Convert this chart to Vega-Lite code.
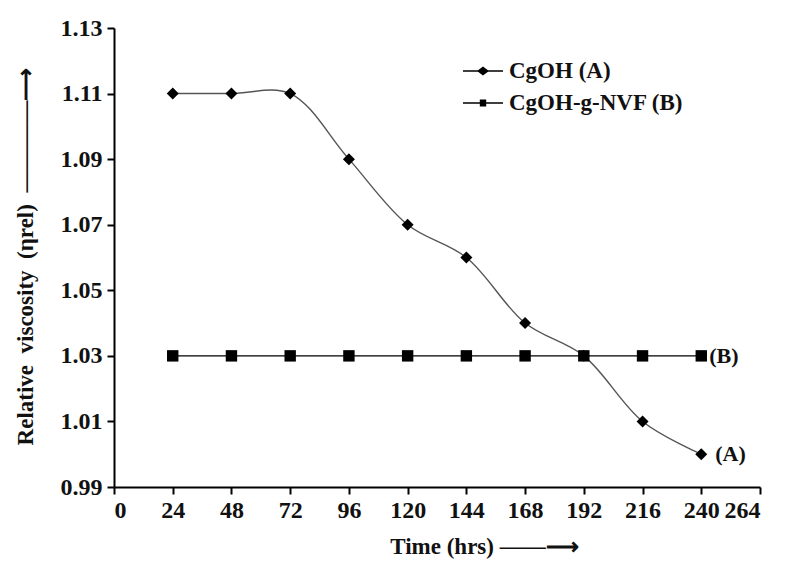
{
  "$schema": "https://vega.github.io/schema/vega-lite/v6.json",
  "autosize": {"type": "none"},
  "width": 646,
  "height": 459,
  "padding": {"left": 114, "top": 28, "right": 26, "bottom": 85},
  "background": "white",
  "config": {
    "view": {"stroke": null},
    "font": "Liberation Serif",
    "axis": {
      "labelFont": "Liberation Serif",
      "labelFontWeight": "bold",
      "labelFontSize": 24,
      "labelColor": "#111",
      "titleFont": "Liberation Serif",
      "titleFontWeight": "bold",
      "titleFontSize": 23,
      "titleColor": "#111",
      "domainColor": "#000",
      "domainWidth": 2,
      "tickColor": "#000",
      "tickWidth": 2,
      "tickSize": 7,
      "grid": false
    },
    "legend": {
      "labelFont": "Liberation Serif",
      "labelFontWeight": "bold",
      "labelFontSize": 23,
      "labelColor": "#111",
      "labelLimit": 400
    }
  },
  "datasets": {
    "visc": [
      {"time": 24, "value": 1.11, "series": "CgOH (A)"},
      {"time": 48, "value": 1.11, "series": "CgOH (A)"},
      {"time": 72, "value": 1.11, "series": "CgOH (A)"},
      {"time": 96, "value": 1.09, "series": "CgOH (A)"},
      {"time": 120, "value": 1.07, "series": "CgOH (A)"},
      {"time": 144, "value": 1.06, "series": "CgOH (A)"},
      {"time": 168, "value": 1.04, "series": "CgOH (A)"},
      {"time": 192, "value": 1.03, "series": "CgOH (A)"},
      {"time": 216, "value": 1.01, "series": "CgOH (A)"},
      {"time": 240, "value": 1.00, "series": "CgOH (A)"},
      {"time": 24, "value": 1.03, "series": "CgOH-g-NVF (B)"},
      {"time": 48, "value": 1.03, "series": "CgOH-g-NVF (B)"},
      {"time": 72, "value": 1.03, "series": "CgOH-g-NVF (B)"},
      {"time": 96, "value": 1.03, "series": "CgOH-g-NVF (B)"},
      {"time": 120, "value": 1.03, "series": "CgOH-g-NVF (B)"},
      {"time": 144, "value": 1.03, "series": "CgOH-g-NVF (B)"},
      {"time": 168, "value": 1.03, "series": "CgOH-g-NVF (B)"},
      {"time": 192, "value": 1.03, "series": "CgOH-g-NVF (B)"},
      {"time": 216, "value": 1.03, "series": "CgOH-g-NVF (B)"},
      {"time": 240, "value": 1.03, "series": "CgOH-g-NVF (B)"}
    ],
    "tags": [
      {"time": 240, "value": 1.03, "tag": "(B)"},
      {"time": 240, "value": 1.00, "tag": "(A)"}
    ]
  },
  "encoding": {
    "x": {
      "field": "time", "type": "quantitative",
      "scale": {"domain": [0, 264], "nice": false, "zero": false},
      "axis": {
        "values": [0, 24, 48, 72, 96, 120, 144, 168, 192, 216, 240, 264],
        "title": "Time (hrs)\u00a0——⟶",
        "titleX": 370,
        "titleY": 59,
        "titleAlign": "center",
        "titleBaseline": "middle",
        "labelPadding": 4
      }
    },
    "y": {
      "field": "value", "type": "quantitative",
      "scale": {"domain": [0.99, 1.13], "nice": false, "zero": false},
      "axis": {
        "values": [0.99, 1.01, 1.03, 1.05, 1.07, 1.09, 1.11, 1.13],
        "format": ".2f",
        "title": "Relative\u00a0\u00a0viscosity\u00a0\u00a0(ηrel)\u00a0\u00a0————⟶",
        "titleX": -89,
        "titleY": 228,
        "titleAlign": "center",
        "titleBaseline": "middle",
        "titleAngle": 270,
        "labelPadding": 5
      }
    }
  },
  "layer": [
    {
      "data": {"name": "visc"},
      "mark": {"type": "line", "interpolate": "catmull-rom", "strokeWidth": 1.4},
      "encoding": {
        "detail": {"field": "series"},
        "stroke": {
          "condition": {"test": "datum.series === 'CgOH (A)'", "value": "#555555"},
          "value": "#000000"
        }
      }
    },
    {
      "data": {"name": "visc"},
      "mark": {"type": "point", "filled": true, "size": 1600, "color": "#000", "opacity": 0},
      "encoding": {
        "shape": {
          "field": "series", "type": "nominal",
          "scale": {
            "domain": ["CgOH (A)", "CgOH-g-NVF (B)"],
            "range": [
              "M-1,-0.04H1V0.04H-1ZM-0.3,0L0,-0.22L0.3,0L0,0.22Z",
              "M-1,-0.04H1V0.04H-1ZM-0.16,-0.17H0.16V0.17H-0.16Z"
            ]
          },
          "legend": {
            "title": null,
            "orient": "none",
            "legendX": 349,
            "legendY": 23,
            "symbolSize": 1600,
            "symbolFillColor": "#000",
            "symbolStrokeWidth": 0,
            "symbolOpacity": 1,
            "labelOffset": 6,
            "rowPadding": -15
          }
        }
      }
    },
    {
      "data": {"name": "visc"},
      "transform": [{"filter": "datum.series === 'CgOH (A)'"}],
      "mark": {"type": "point", "shape": "diamond", "filled": true, "size": 144, "color": "#000", "opacity": 1}
    },
    {
      "data": {"name": "visc"},
      "transform": [{"filter": "datum.series === 'CgOH-g-NVF (B)'"}],
      "mark": {"type": "point", "shape": "square", "filled": true, "size": 130, "color": "#000", "opacity": 1}
    },
    {
      "data": {"name": "tags"},
      "transform": [{"filter": "datum.tag === '(B)'"}],
      "mark": {"type": "text", "align": "left", "dx": 8, "fontWeight": "bold", "fontSize": 22, "font": "Liberation Serif", "color": "#111"},
      "encoding": {"text": {"field": "tag"}}
    },
    {
      "data": {"name": "tags"},
      "transform": [{"filter": "datum.tag === '(A)'"}],
      "mark": {"type": "text", "align": "left", "dx": 14, "fontWeight": "bold", "fontSize": 22, "font": "Liberation Serif", "color": "#111"},
      "encoding": {"text": {"field": "tag"}}
    }
  ]
}
